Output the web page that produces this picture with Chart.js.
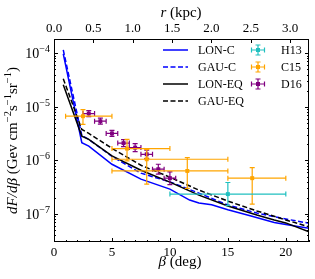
<!DOCTYPE html>
<html>
<head>
<meta charset="utf-8">
<script src="https://cdn.jsdelivr.net/npm/chart.js@4.4.0/dist/chart.umd.min.js"></script>
<style>
  html, body { margin: 0; padding: 0; background: #fff; }
</style>
</head>
<body>
<canvas id="chart" width="315" height="279"></canvas>
<script>
"use strict";

// ── Data ────────────────────────────────────────────────────────────────────

// model curves: beta (deg) -> dF/dbeta
const betaLonC = [0.8, 2.4, 3, 5, 7.5, 10, 11.7, 12.5, 13.6, 15, 17, 19, 20, 22];
const fluxLonC = [9.7e-5, 2.14e-6, 1.85e-6, 8.47e-7, 4.46e-7, 2.91e-7, 1.82e-7, 1.60e-7, 1.49e-7, 1.20e-7, 9.18e-8, 6.95e-8, 6.38e-8, 5.43e-8];

const betaGauC = [0.8, 2.4, 3, 5, 7.5, 10, 12.5, 15, 17.5, 20, 22];
const fluxGauC = [1.15e-4, 2.92e-6, 2.46e-6, 1.19e-6, 5.77e-7, 3.97e-7, 2.45e-7, 1.47e-7, 1.04e-7, 8.07e-8, 6.71e-8];

const betaLonEq = [0.8, 2.4, 3, 5, 7.5, 10, 12.5, 15, 17.5, 19, 20, 22];
const fluxLonEq = [2.58e-5, 2.84e-6, 2.46e-6, 1.21e-6, 6.55e-7, 3.92e-7, 2.25e-7, 1.41e-7, 9.57e-8, 7.73e-8, 6.81e-8, 4.63e-8];

const betaGauEq = [0.8, 2.4, 3, 5, 7.5, 10, 12.5, 15, 17.5, 20, 22];
const fluxGauEq = [3.34e-5, 3.78e-6, 3.18e-6, 1.68e-6, 8.11e-7, 4.86e-7, 2.79e-7, 1.74e-7, 1.14e-7, 7.75e-8, 5.74e-8];

// measurements with error bars
const h13Beta = [15];
const h13BetaLo = [10];
const h13BetaHi = [20];
const h13Flux = [2.35e-7];
const h13FluxLo = [1.43e-7];
const h13FluxHi = [3.87e-7];

const c15Beta = [2.5, 6.3, 8.0, 11.5, 17.1];
const c15BetaLo = [1, 5, 5, 5, 15];
const c15BetaHi = [5, 10, 15, 15, 20];
const c15Flux = [6.67e-6, 1.66e-6, 1.05e-6, 6.35e-7, 4.66e-7];
const c15FluxLo = [4.68e-6, 9.75e-7, 3.6e-7, 3.0e-7, 1.53e-7];
const c15FluxHi = [8.87e-6, 2.46e-6, 1.61e-6, 1.13e-6, 7.35e-7];

const d16Beta = [3, 4, 5, 6, 7, 8, 9, 10];
const d16BetaLo = [2.5, 3.5, 4.5, 5.5, 6.5, 7.5, 8.5, 9.5];
const d16BetaHi = [3.5, 4.5, 5.5, 6.5, 7.5, 8.5, 9.5, 10.5];
const d16Flux = [7.48e-6, 5.38e-6, 3.18e-6, 2.10e-6, 1.73e-6, 1.30e-6, 6.84e-7, 4.66e-7];
const d16FluxLo = [6.58e-6, 4.73e-6, 2.80e-6, 1.81e-6, 1.46e-6, 1.08e-6, 5.52e-7, 3.54e-7];
const d16FluxHi = [8.51e-6, 6.12e-6, 3.62e-6, 2.44e-6, 2.05e-6, 1.56e-6, 8.47e-7, 6.12e-7];

// axes
const BETA_MIN = 0, BETA_MAX = 22;
const R_MAX = 3.24;            // top axis, kpc at beta = 22 deg
const Y_MIN = 3.16e-8, Y_MAX = 1.84e-4;
const betaTicks = [0, 5, 10, 15, 20];
const rTicks = [0.0, 0.5, 1.0, 1.5, 2.0, 2.5, 3.0];
const yTickExps = [-7, -6, -5, -4];

const SERIF = "'Liberation Serif', 'DejaVu Serif', serif";

// ── Helpers ─────────────────────────────────────────────────────────────────

function pts(xs, ys) {
  return xs.map((x, i) => ({ x, y: ys[i] }));
}

// text made of runs (italic / superscript parts), centred on (x, y) baseline
function drawRuns(ctx, runs, x, y, size, angle) {
  ctx.save();
  ctx.translate(x, y);
  ctx.rotate(angle || 0);
  const fontFor = r => `${r.it ? "italic " : ""}${r.sup ? size * 0.7 : size}px ${SERIF}`;
  let total = 0;
  runs.forEach(r => { ctx.font = fontFor(r); total += ctx.measureText(r.t).width; });
  let cx = -total / 2;
  ctx.fillStyle = "#000";
  ctx.textAlign = "left";
  ctx.textBaseline = "alphabetic";
  runs.forEach(r => {
    ctx.font = fontFor(r);
    ctx.fillText(r.t, cx, r.sup ? -size * 0.4 : 0);
    cx += ctx.measureText(r.t).width;
  });
  ctx.restore();
}

function drawErrorBar(ctx, x, y, x0, x1, y0, y1, cap) {
  ctx.beginPath();
  ctx.moveTo(x0, y); ctx.lineTo(x1, y);
  ctx.moveTo(x, y0); ctx.lineTo(x, y1);
  ctx.moveTo(x0, y - cap); ctx.lineTo(x0, y + cap);
  ctx.moveTo(x1, y - cap); ctx.lineTo(x1, y + cap);
  ctx.moveTo(x - cap, y0); ctx.lineTo(x + cap, y0);
  ctx.moveTo(x - cap, y1); ctx.lineTo(x + cap, y1);
  ctx.stroke();
}

// ── Plugins ─────────────────────────────────────────────────────────────────

const errorBarPlugin = {
  id: "errorBars",
  beforeDatasetDraw(chart, args) {
    const ds = chart.data.datasets[args.index];
    if (!ds.errors) return;
    const { ctx, scales: { x: sx, y: sy } } = chart;
    const e = ds.errors;
    ctx.save();
    ctx.strokeStyle = ds.borderColor;
    ctx.lineWidth = 1.2;
    ds.data.forEach((p, i) => {
      drawErrorBar(ctx,
        sx.getPixelForValue(p.x), sy.getPixelForValue(p.y),
        sx.getPixelForValue(e.xLo[i]), sx.getPixelForValue(e.xHi[i]),
        sy.getPixelForValue(e.yHi[i]), sy.getPixelForValue(e.yLo[i]), 2.5);
    });
    ctx.restore();
  },
};

const framePlugin = {
  id: "frame",
  beforeDraw(chart) {
    const { ctx, width, height } = chart;
    ctx.save();
    ctx.fillStyle = "#fff";
    ctx.fillRect(0, 0, width, height);
    ctx.restore();
  },
  afterDraw(chart) {
    const { ctx, chartArea: a, scales } = chart;
    ctx.save();
    ctx.strokeStyle = "#000";
    ctx.lineWidth = 1;
    ctx.setLineDash([]);
    ctx.strokeRect(a.left + 0.5, a.top + 0.5, a.right - a.left - 1, a.bottom - a.top - 1);

    // inward ticks
    ctx.beginPath();
    for (let b = BETA_MIN; b <= BETA_MAX; b++) {
      const px = Math.round(scales.x.getPixelForValue(b)) + 0.5;
      const len = b % 5 === 0 ? 4 : 2;
      ctx.moveTo(px, a.bottom); ctx.lineTo(px, a.bottom - len);
    }
    scales.xTop.ticks.forEach(t => {
      const px = Math.round(scales.xTop.getPixelForValue(t.value)) + 0.5;
      ctx.moveTo(px, a.top); ctx.lineTo(px, a.top + 4);
    });
    for (let e = -8; e <= -4; e++) {
      for (let m = 1; m <= 9; m++) {
        const v = m * Math.pow(10, e);
        if (v < Y_MIN || v > Y_MAX) continue;
        const py = Math.round(scales.y.getPixelForValue(v)) + 0.5;
        const len = m === 1 ? 4 : 2;
        ctx.moveTo(a.left, py); ctx.lineTo(a.left + len, py);
        ctx.moveTo(a.right, py); ctx.lineTo(a.right - len, py);
      }
    }
    ctx.stroke();

    // y tick labels 10^n
    ctx.fillStyle = "#000";
    ctx.textBaseline = "alphabetic";
    ctx.textAlign = "left";
    yTickExps.forEach(e => {
      const py = scales.y.getPixelForValue(Math.pow(10, e));
      const sup = "\u2212" + Math.abs(e);
      ctx.font = `14px ${SERIF}`;
      const wBase = ctx.measureText("10").width;
      ctx.font = `10px ${SERIF}`;
      const wSup = ctx.measureText(sup).width;
      const x0 = a.left - 4 - wBase - wSup;
      ctx.font = `14px ${SERIF}`;
      ctx.fillText("10", x0, py + 5);
      ctx.font = `10px ${SERIF}`;
      ctx.fillText(sup, x0 + wBase, py - 1);
    });

    // axis titles
    drawRuns(ctx, [{ t: "\u03b2", it: true }, { t: " (deg)" }], 180, 266, 15);
    drawRuns(ctx, [{ t: "r", it: true }, { t: " (kpc)" }], 181, 17, 15);
    drawRuns(ctx, [
      { t: "dF/d\u03b2", it: true }, { t: " (Gev cm" }, { t: "\u22122", sup: true },
      { t: "s" }, { t: "\u22121", sup: true }, { t: "sr" }, { t: "\u22121", sup: true }, { t: ")" },
    ], 17, (a.top + a.bottom) / 2, 15, -Math.PI / 2);

    // legend
    const rowY = [50, 67, 84, 101];
    ctx.font = `12px ${SERIF}`;
    ctx.textBaseline = "middle";
    const lines = chart.data.datasets.filter(d => !d.errors);
    lines.forEach((d, i) => {
      ctx.strokeStyle = d.borderColor;
      ctx.lineWidth = d.borderWidth;
      ctx.setLineDash(d.borderDash || []);
      ctx.beginPath();
      ctx.moveTo(163, rowY[i]); ctx.lineTo(188, rowY[i]);
      ctx.stroke();
      ctx.fillStyle = "#000";
      ctx.fillText(d.label, 198, rowY[i] + 1);
    });
    ctx.setLineDash([]);
    const bars = chart.data.datasets.filter(d => d.errors);
    bars.forEach((d, i) => {
      const y = rowY[i];
      ctx.strokeStyle = d.borderColor;
      ctx.lineWidth = 1.2;
      drawErrorBar(ctx, 258, y, 251.5, 264.5, y - 5, y + 5, 2.5);
      ctx.fillStyle = d.borderColor;
      ctx.fillRect(256, y - 2, 4, 4);
      ctx.fillStyle = "#000";
      ctx.fillText(d.label, 281, y + 1);
    });
    ctx.restore();
  },
};

// ── Chart ───────────────────────────────────────────────────────────────────

function lineSet(label, xs, ys, color, dash, order) {
  return {
    label, data: pts(xs, ys), showLine: true, borderColor: color, borderWidth: 1.5,
    borderDash: dash, pointRadius: 0, fill: false, tension: 0, order,
  };
}

function errSet(label, xs, ys, xLo, xHi, yLo, yHi, color) {
  return {
    label, data: pts(xs, ys), showLine: false, borderColor: color, backgroundColor: color,
    pointStyle: "rect", pointRadius: 2.8, pointBorderWidth: 0, order: 0,
    errors: { xLo, xHi, yLo, yHi },
  };
}

const tickFont = { family: SERIF, size: 13 };
const noGrid = { display: false, drawTicks: false, tickLength: 0 };

new Chart(document.getElementById("chart"), {
  type: "scatter",
  data: {
    datasets: [
      lineSet("LON-C", betaLonC, fluxLonC, "#0000ff", [], 4),
      lineSet("GAU-C", betaGauC, fluxGauC, "#0000ff", [5, 2.5], 3),
      lineSet("LON-EQ", betaLonEq, fluxLonEq, "#000000", [], 2),
      lineSet("GAU-EQ", betaGauEq, fluxGauEq, "#000000", [5, 2.5], 1),
      errSet("H13", h13Beta, h13Flux, h13BetaLo, h13BetaHi, h13FluxLo, h13FluxHi, "#20c0c0"),
      errSet("C15", c15Beta, c15Flux, c15BetaLo, c15BetaHi, c15FluxLo, c15FluxHi, "#ffa500"),
      errSet("D16", d16Beta, d16Flux, d16BetaLo, d16BetaHi, d16FluxLo, d16FluxHi, "#800080"),
    ],
  },
  options: {
    responsive: false,
    animation: false,
    devicePixelRatio: 1,
    layout: { padding: { left: 0, right: 6, top: 0, bottom: 0 } },
    plugins: { legend: { display: false }, tooltip: { enabled: false } },
    scales: {
      x: {
        type: "linear", position: "bottom", min: BETA_MIN, max: BETA_MAX,
        afterBuildTicks: s => { s.ticks = betaTicks.map(v => ({ value: v })); },
        afterFit: s => { s.height = 37; },
        ticks: { color: "#000", font: tickFont, padding: 3, maxRotation: 0, autoSkip: false },
        grid: noGrid, border: { display: false },
      },
      xTop: {
        type: "linear", axis: "x", position: "top", min: 0, max: R_MAX,
        afterBuildTicks: s => { s.ticks = rTicks.map(v => ({ value: v })); },
        afterFit: s => { s.height = 39; },
        ticks: { color: "#000", font: tickFont, padding: 3, maxRotation: 0, autoSkip: false,
                 callback: v => v.toFixed(1) },
        grid: noGrid, border: { display: false },
      },
      y: {
        type: "logarithmic", position: "left", min: Y_MIN, max: Y_MAX,
        afterFit: s => { s.width = 54; },
        ticks: { display: false },
        grid: noGrid, border: { display: false },
      },
    },
  },
  plugins: [errorBarPlugin, framePlugin],
});
</script>
</body>
</html>
